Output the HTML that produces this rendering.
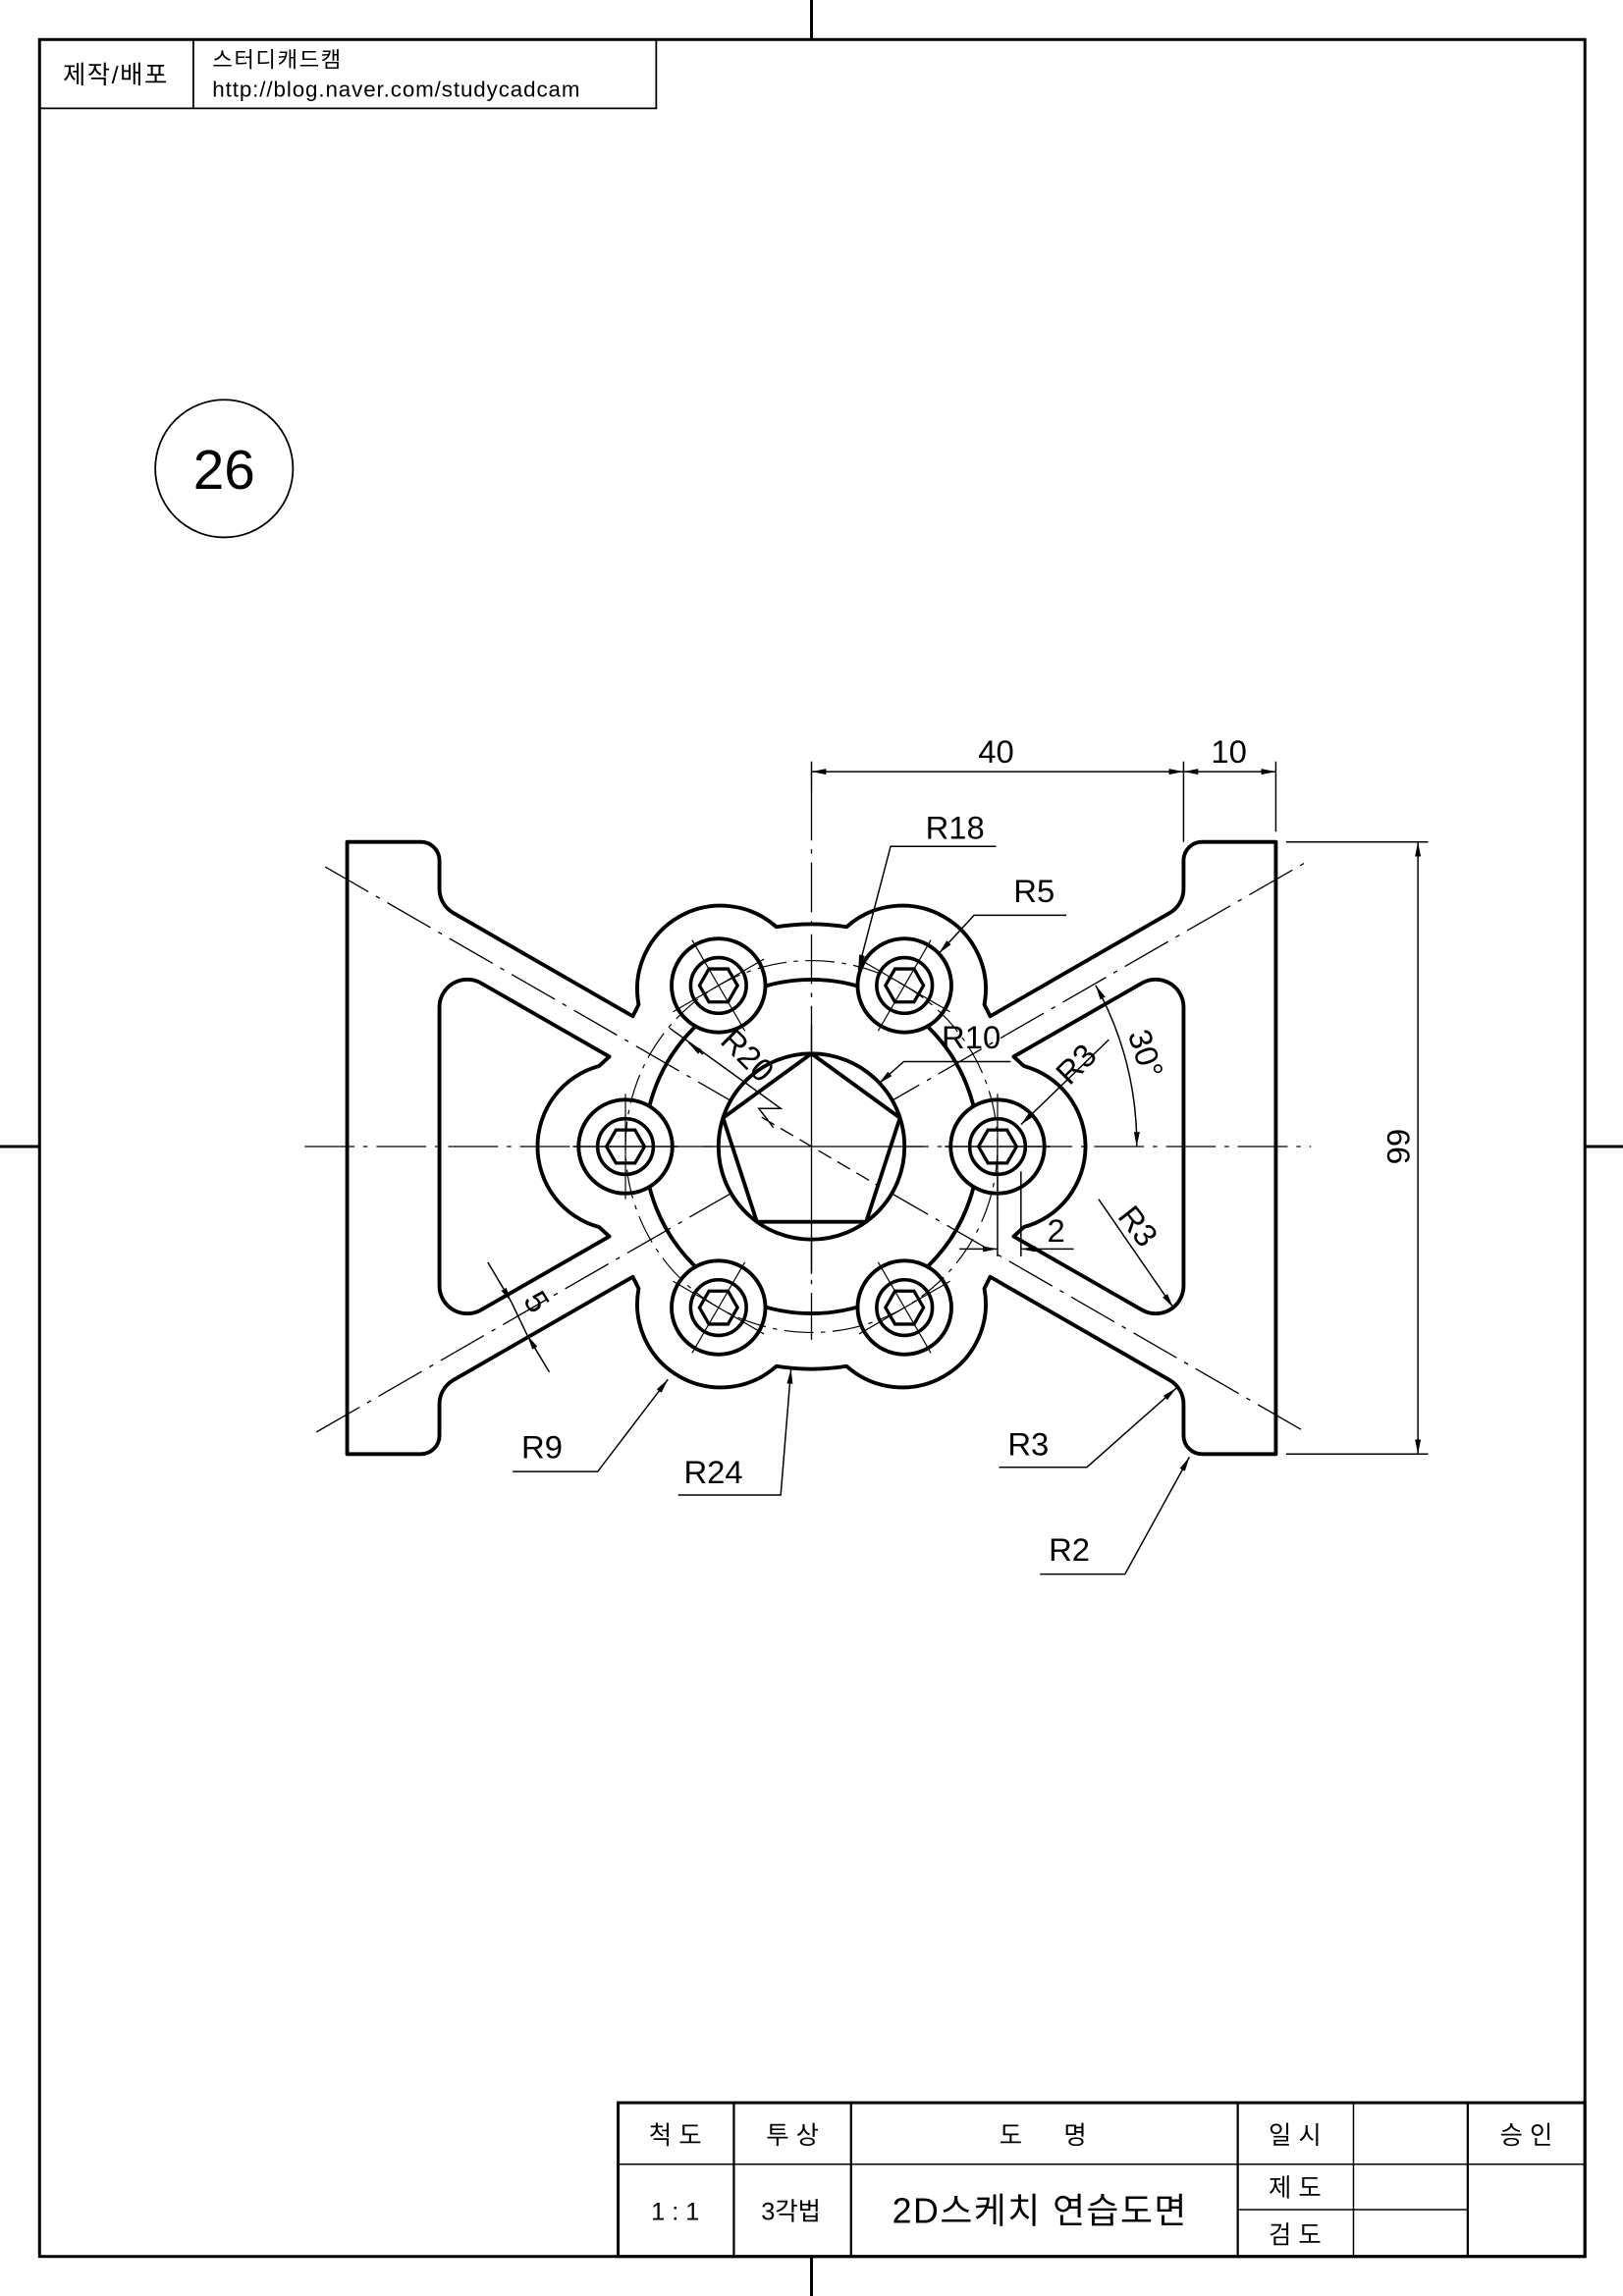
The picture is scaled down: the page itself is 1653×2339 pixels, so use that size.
<!DOCTYPE html>
<html><head><meta charset="utf-8"><style>
html,body{margin:0;padding:0;background:#fff}
svg{display:block}
text{font-family:"Liberation Sans","Noto Sans CJK KR",sans-serif;fill:#000}
</style></head><body>
<svg width="1653" height="2339" viewBox="0 0 1108 1568" preserveAspectRatio="none" xmlns="http://www.w3.org/2000/svg">
<defs>
<marker id="a" viewBox="0 0 10 4" refX="10" refY="2" markerWidth="10" markerHeight="4" markerUnits="userSpaceOnUse" orient="auto-start-reverse"><path d="M0,0L10,2L0,4Z" fill="#000"/></marker>
</defs>
<rect x="0" y="0" width="1108" height="1568" fill="#fff"/>
<g stroke="#000" fill="none" stroke-width="2">
<rect x="27" y="27" width="1055" height="1514"/>
<line x1="554" y1="0" x2="554" y2="27"/><line x1="554" y1="1541" x2="554" y2="1568"/>
<line x1="0" y1="783" x2="27" y2="783"/><line x1="1082" y1="783" x2="1108" y2="783"/>
</g>
<g stroke="#000" fill="none" stroke-width="1.2">
<polyline points="27,74 448,74 448,27"/><line x1="132" y1="27" x2="132" y2="74"/>
<circle cx="153" cy="320" r="47"/>
</g>
<text x="79" y="57" font-size="17" text-anchor="middle" letter-spacing="1">제작/배포</text>
<text x="145" y="46" font-size="15" letter-spacing="1">스터디캐드캠</text>
<text x="145" y="66" font-size="15" letter-spacing="0.6">http://blog.naver.com/studycadcam</text>
<text x="153" y="334" font-size="38" text-anchor="middle">26</text>

<g stroke="#000" fill="none" stroke-width="1.5">
<rect x="422" y="1436" width="660" height="105" stroke-width="2"/>
<line x1="422" y1="1478" x2="1082" y2="1478" stroke-width="1"/>
<line x1="501" y1="1436" x2="501" y2="1541"/><line x1="581" y1="1436" x2="581" y2="1541"/>
<line x1="845" y1="1436" x2="845" y2="1541"/><line x1="924" y1="1436" x2="924" y2="1541" stroke-width="1"/>
<line x1="1002" y1="1436" x2="1002" y2="1541"/>
<line x1="845" y1="1509" x2="1002" y2="1509" stroke-width="1"/>
</g>
<g font-size="17" text-anchor="middle">
<text x="461" y="1464">척 도</text><text x="541" y="1464">투 상</text>
<text x="712" y="1464">도&#160;&#160;&#160;&#160;&#160;&#160;명</text>
<text x="884" y="1464">일 시</text><text x="1042" y="1464">승 인</text>
<text x="461" y="1516">1 : 1</text><text x="540" y="1516">3각법</text>
<text x="884" y="1500">제 도</text><text x="884" y="1532">검 도</text>
<text x="710" y="1518" font-size="24" letter-spacing="1">2D스케치 연습도면</text>
</g>

<g stroke="#000" stroke-width="0.9" fill="none" stroke-dasharray="34,6,3,6">
<line x1="208" y1="783" x2="895" y2="783"/>
<line x1="554" y1="540" x2="554" y2="915"/>
<line x1="222" y1="592" x2="893" y2="979"/>
<line x1="216" y1="978" x2="893" y2="588"/>
</g>

<g stroke="#000" stroke-width="2.6" fill="none" stroke-linejoin="round">
<path d="M237,575 L287.3,575 A12.7,12.7 0 0 1 300,587.7 L300,607 A19,19 0 0 0 309.5,623.5 L432,694 L436,686 A57,57 0 0 1 530,633 A152,152 0 0 1 578,633 A57,57 0 0 1 672,686 L676,694 L798.5,623.5 A19,19 0 0 0 808,607 L808,587.7 A12.7,12.7 0 0 1 820.7,575 L871,575 L871,993 L820.7,993 A12.7,12.7 0 0 1 808,980.3 L808,959 A19,19 0 0 0 798.5,942.5 L676,872 L672,880 A57,57 0 0 1 578,933 A152,152 0 0 1 530,933 A57,57 0 0 1 436,880 L432,872 L309.5,942.5 A19,19 0 0 0 300,959 L300,980.3 A12.7,12.7 0 0 1 287.3,993 L237,993 Z"/>
<path d="M300,688 A19,19 0 0 1 328.6,671.5 L416,721.6 L409,728 A57,57 0 0 0 409,838 L416,844.4 L328.6,894.5 A19,19 0 0 1 300,878 Z"/>
<path d="M808,688 A19,19 0 0 0 779.4,671.5 L692,721.6 L699,728 A57,57 0 0 1 699,838 L692,844.4 L779.4,894.5 A19,19 0 0 0 808,878 Z"/>
<circle cx="554" cy="783" r="114"/>
<circle cx="554" cy="783" r="63.5" fill="#fff"/>
<polygon points="554,719.5 614.4,763.4 591.3,834.4 516.7,834.4 493.6,763.4"/>
</g>
<g stroke="#000" stroke-width="0.9" fill="none">
<line x1="554" y1="700" x2="554" y2="870"/>
<line x1="480" y1="783" x2="630" y2="783"/>
<line x1="520" y1="763" x2="600" y2="810" stroke-dasharray="10,5"/>
</g>

<g stroke="#000" stroke-width="2.6" fill="#fff">
<g transform="translate(681,783)"><circle r="32"/><circle r="19" stroke-width="2.4"/><polygon points="13,0 6.5,11.3 -6.5,11.3 -13,0 -6.5,-11.3 6.5,-11.3" stroke-width="2.2" fill="none"/><line x1="-36" y1="0" x2="36" y2="0" stroke-width="1"/><line x1="0" y1="-36" x2="0" y2="36" stroke-width="0.8"/></g>
<g transform="translate(427,783)"><circle r="32"/><circle r="19" stroke-width="2.4"/><polygon points="13,0 6.5,11.3 -6.5,11.3 -13,0 -6.5,-11.3 6.5,-11.3" stroke-width="2.2" fill="none"/><line x1="-36" y1="0" x2="36" y2="0" stroke-width="1"/><line x1="0" y1="-36" x2="0" y2="36" stroke-width="0.8"/></g>
<g transform="translate(617.5,673)"><circle r="32"/><circle r="19" stroke-width="2.4"/><polygon points="13,0 6.5,11.3 -6.5,11.3 -13,0 -6.5,-11.3 6.5,-11.3" stroke-width="2.2" fill="none"/><line x1="-18" y1="31" x2="18" y2="-31" stroke-width="0.8"/><line x1="-31" y1="-18" x2="31" y2="18" stroke-width="0.8"/></g>
<g transform="translate(490.5,673)"><circle r="32"/><circle r="19" stroke-width="2.4"/><polygon points="13,0 6.5,11.3 -6.5,11.3 -13,0 -6.5,-11.3 6.5,-11.3" stroke-width="2.2" fill="none"/><line x1="18" y1="31" x2="-18" y2="-31" stroke-width="0.8"/><line x1="31" y1="-18" x2="-31" y2="18" stroke-width="0.8"/></g>
<g transform="translate(617.5,893)"><circle r="32"/><circle r="19" stroke-width="2.4"/><polygon points="13,0 6.5,11.3 -6.5,11.3 -13,0 -6.5,-11.3 6.5,-11.3" stroke-width="2.2" fill="none"/><line x1="18" y1="31" x2="-18" y2="-31" stroke-width="0.8"/><line x1="31" y1="-18" x2="-31" y2="18" stroke-width="0.8"/></g>
<g transform="translate(490.5,893)"><circle r="32"/><circle r="19" stroke-width="2.4"/><polygon points="13,0 6.5,11.3 -6.5,11.3 -13,0 -6.5,-11.3 6.5,-11.3" stroke-width="2.2" fill="none"/><line x1="-18" y1="31" x2="18" y2="-31" stroke-width="0.8"/><line x1="-31" y1="-18" x2="31" y2="18" stroke-width="0.8"/></g>
</g>
<circle cx="554" cy="783" r="127" stroke="#000" stroke-width="0.8" fill="none" stroke-dasharray="20,5,3,5"/>

<g stroke="#000" stroke-width="1" fill="none">
<line x1="554" y1="520" x2="554" y2="540"/>
<line x1="808" y1="520" x2="808" y2="575"/>
<line x1="871" y1="520" x2="871" y2="568"/>
<line x1="554" y1="527" x2="808" y2="527" marker-start="url(#a)" marker-end="url(#a)"/>
<line x1="808" y1="527" x2="871" y2="527" marker-start="url(#a)" marker-end="url(#a)"/>
<line x1="878" y1="575" x2="975" y2="575"/><line x1="878" y1="993" x2="975" y2="993"/>
<line x1="968" y1="575" x2="968" y2="993" marker-start="url(#a)" marker-end="url(#a)"/>
<polyline points="680,578 608,578 586,662" marker-end="url(#a)"/>
<polyline points="728,625 665,625 641,651" marker-end="url(#a)"/>
<polyline points="690,725 617,725 600,740" marker-end="url(#a)"/>
<polyline points="457,702 533,757 518,757 528,770"/>
<line x1="480" y1="720" x2="470" y2="712" marker-end="url(#a)"/>
<line x1="757" y1="710" x2="697" y2="768" marker-end="url(#a)"/>
<path d="M748,673 A222,222 0 0 1 776,783" marker-start="url(#a)" marker-end="url(#a)"/>
<line x1="681" y1="800" x2="681" y2="858"/><line x1="697" y1="800" x2="697" y2="858"/>
<line x1="655" y1="853" x2="681" y2="853" marker-end="url(#a)"/>
<line x1="733" y1="853" x2="697" y2="853" marker-end="url(#a)"/>
<line x1="750" y1="819" x2="801" y2="893" marker-end="url(#a)"/>
<line x1="333" y1="862" x2="349" y2="889" marker-end="url(#a)"/>
<line x1="375" y1="937" x2="360" y2="912" marker-end="url(#a)"/>
<line x1="349" y1="889" x2="360" y2="912"/>
<polyline points="350,1005 408,1005 456,942" marker-end="url(#a)"/>
<polyline points="463,1021 533,1021 540,935" marker-end="url(#a)"/>
<polyline points="682,1002 742,1002 803,948" marker-end="url(#a)"/>
<polyline points="710,1075 768,1075 812,995" marker-end="url(#a)"/>
</g>
<g font-size="22">
<text x="680" y="521" text-anchor="middle">40</text>
<text x="839" y="521" text-anchor="middle">10</text>
<text x="947" y="783" text-anchor="middle" transform="rotate(90 947 783)">66</text>
<text x="652" y="573" text-anchor="middle">R18</text>
<text x="706" y="616" text-anchor="middle">R5</text>
<text x="663" y="716" text-anchor="middle">R10</text>
<text x="505" y="726" text-anchor="middle" transform="rotate(45 505 726)">R20</text>
<text x="740" y="732" text-anchor="middle" transform="rotate(-45 740 732)">R3</text>
<text x="775" y="722" text-anchor="middle" transform="rotate(72 775 722)">30°</text>
<text x="721" y="848" text-anchor="middle">2</text>
<text x="771" y="842" text-anchor="middle" transform="rotate(52 771 842)">R3</text>
<text x="360" y="893" text-anchor="middle" transform="rotate(58 360 893)">5</text>
<text x="370" y="996" text-anchor="middle">R9</text>
<text x="487" y="1013" text-anchor="middle">R24</text>
<text x="702" y="994" text-anchor="middle">R3</text>
<text x="730" y="1066" text-anchor="middle">R2</text>
</g>
</svg>
</body></html>
